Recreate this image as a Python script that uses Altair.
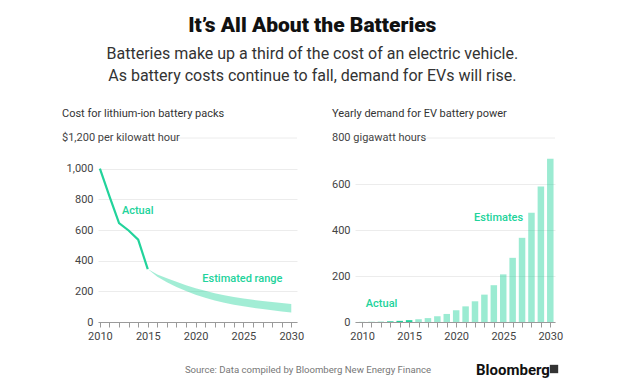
import altair as alt
import pandas as pd

# ---------------- data ----------------
cost_years = [2010, 2011, 2012, 2013, 2014, 2015]
cost_actual = [1000, 820, 645, 597, 537, 345]

est_years = list(range(2015, 2031))
cost_upper = [345, 310, 285, 262, 240, 220, 203, 188, 175, 163, 153, 145, 137, 130, 124, 118]
cost_lower = [345, 295, 260, 228, 202, 178, 158, 140, 125, 113, 102, 93, 84, 76, 69, 62]

demand_years = list(range(2010, 2031))
demand_gwh = [0.3, 0.6, 1, 3, 5, 8, 12, 17, 25, 35, 51, 68, 90, 119, 160, 207, 279, 366, 475, 589, 710]
demand_kind = ["Actual"] * 6 + ["Estimate"] * 15

x_ticks = list(range(2010, 2031))
cost_ticks = [0, 200, 400, 600, 800, 1000, 1200]
demand_ticks = [0, 200, 400, 600, 800]

title_text = "It’s All About the Batteries"
subtitle_lines = ["Batteries make up a third of the cost of an electric vehicle.",
                  "As battery costs continue to fall, demand for EVs will rise."]
left_title = "Cost for lithium-ion battery packs"
right_title = "Yearly demand for EV battery power"
left_unit = "$1,200 per kilowatt hour"
right_unit = "800 gigawatt hours"
source_text = "Source: Data compiled by Bloomberg New Energy Finance"

# ---------------- style ----------------
GREEN = "#22d39b"
FONT = "Roboto"
W1, W2, H = 199, 200, 184

actual_df = pd.DataFrame({"year": cost_years, "value": cost_actual})
band_df = pd.DataFrame({"year": est_years, "value": cost_upper, "lower": cost_lower})
demand_df = pd.DataFrame({"year": demand_years, "value": demand_gwh, "kind": demand_kind})


def x_axis():
    return alt.Axis(values=x_ticks,
                    labelExpr="datum.value % 5 == 0 ? format(datum.value, 'd') : ''",
                    grid=False, tickSize=5, tickColor="#9a9a9a", domainColor="#9a9a9a",
                    labelColor="#444", labelFontSize=11, labelFont=FONT, labelPadding=3,
                    labelFlush=False, labelOverlap=False)


def y_axis(vals, top):
    return alt.Axis(values=vals,
                    labelExpr=f"datum.value == {top} ? '' : format(datum.value, ',')",
                    ticks=False, domain=False, grid=True, gridColor="#ececec",
                    gridOpacity={"condition": {"test": f"datum.value == {top}", "value": 0}, "value": 1},
                    labelColor="#444", labelFontSize=11, labelFont=FONT, labelPadding=5)


# ---------------- left panel ----------------
xs1 = alt.Scale(domain=[2009.8, 2030.6], nice=False, zero=False, padding=0)
ys1 = alt.Scale(domain=[0, 1200], nice=False)
X1 = alt.X("year:Q", scale=xs1, axis=x_axis(), title=None)
Y1 = alt.Y("value:Q", scale=ys1, axis=y_axis(cost_ticks, 1200), title=None)

band = alt.Chart(band_df).mark_area(color=GREEN, opacity=0.42).encode(x=X1, y=Y1, y2="lower:Q")
line = alt.Chart(actual_df).mark_line(color=GREEN, strokeWidth=2.2).encode(x=X1, y=Y1)

ann1 = alt.Chart(pd.DataFrame({"year": [2012.3, 2020.7], "value": [722, 280],
                               "label": ["Actual", "Estimated range"]})).mark_text(
    align="left", baseline="middle", font=FONT, fontSize=11, fontWeight=500, color=GREEN
).encode(x=X1, y=Y1, text="label:N")

unit1 = alt.Chart(pd.DataFrame({"value": [1200], "label": [left_unit]})).mark_text(
    align="left", baseline="middle", font=FONT, fontSize=11, color="#444"
).encode(x=alt.value(-36), y=Y1, text="label:N")
top1 = alt.Chart(pd.DataFrame({"value": [1200]})).mark_rule(color="#ececec").encode(
    x=alt.value(74), x2=alt.value(W1), y=Y1)

head1 = alt.Chart(pd.DataFrame({"label": [left_title]})).mark_text(
    align="left", baseline="middle", font=FONT, fontSize=11, color="#333"
).encode(x=alt.value(-36), y=alt.value(-24), text="label:N")

src = alt.Chart(pd.DataFrame({"label": [source_text]})).mark_text(
    align="center", baseline="middle", font=FONT, fontSize=9.6, color="#777"
).encode(x=alt.value(210), y=alt.value(232), text="label:N")

left = alt.layer(top1, band, line, ann1, unit1, head1, src).properties(width=W1, height=H)

# ---------------- right panel ----------------
xs2 = alt.Scale(domain=[2009.25, 2030.5], nice=False, zero=False, padding=0)
ys2 = alt.Scale(domain=[0, 800], nice=False)
X2 = alt.X("year:Q", scale=xs2, axis=x_axis(), title=None)
Y2 = alt.Y("value:Q", scale=ys2, axis=y_axis(demand_ticks, 800), title=None)

bars = alt.Chart(demand_df).mark_bar(size=6.5).encode(
    x=X2, y=Y2,
    color=alt.Color("kind:N", scale=alt.Scale(domain=["Actual", "Estimate"], range=[GREEN, GREEN]), legend=None),
    opacity=alt.Opacity("kind:N", scale=alt.Scale(domain=["Actual", "Estimate"], range=[1.0, 0.45]), legend=None),
)

ann2 = alt.Chart(pd.DataFrame({"year": [2010.4, 2021.9], "value": [78, 452],
                               "label": ["Actual", "Estimates"]})).mark_text(
    align="left", baseline="middle", font=FONT, fontSize=11, fontWeight=500, color=GREEN
).encode(x=X2, y=Y2, text="label:N")

unit2 = alt.Chart(pd.DataFrame({"value": [800], "label": [right_unit]})).mark_text(
    align="left", baseline="middle", font=FONT, fontSize=11, color="#444"
).encode(x=alt.value(-23), y=Y2, text="label:N")
top2 = alt.Chart(pd.DataFrame({"value": [800]})).mark_rule(color="#ececec").encode(
    x=alt.value(66), x2=alt.value(W2), y=Y2)

head2 = alt.Chart(pd.DataFrame({"label": [right_title]})).mark_text(
    align="left", baseline="middle", font=FONT, fontSize=11, color="#333"
).encode(x=alt.value(-23), y=alt.value(-24), text="label:N")

brand = alt.Chart(pd.DataFrame({"label": ["Bloomberg"]})).mark_text(
    align="left", baseline="middle", font=FONT, fontSize=15, fontWeight="bold", color="#111"
).encode(x=alt.value(121), y=alt.value(232), text="label:N")
logo = alt.Chart(pd.DataFrame({"label": ["logo"]})).mark_square(
    filled=True, color="#333", size=70, opacity=1
).encode(x=alt.value(199), y=alt.value(231))

right = alt.layer(top2, bars, ann2, unit2, head2, brand, logo).properties(width=W2, height=H)

chart = alt.hconcat(left, right, spacing=58, bounds="flush").properties(
    title=alt.TitleParams(text=title_text, subtitle=subtitle_lines, anchor="middle",
                          font=FONT, fontSize=21, fontWeight=900, color="#111",
                          subtitleFont=FONT, subtitleFontSize=16, subtitleColor="#333",
                          subtitleLineHeight=22, subtitlePadding=10, offset=24),
    padding={"left": 54, "top": 7, "right": 5, "bottom": 5},
).configure_view(stroke=None).configure_concat(spacing=58)

chart.save("out.html", embed_options={"renderer": "svg", "actions": False})
